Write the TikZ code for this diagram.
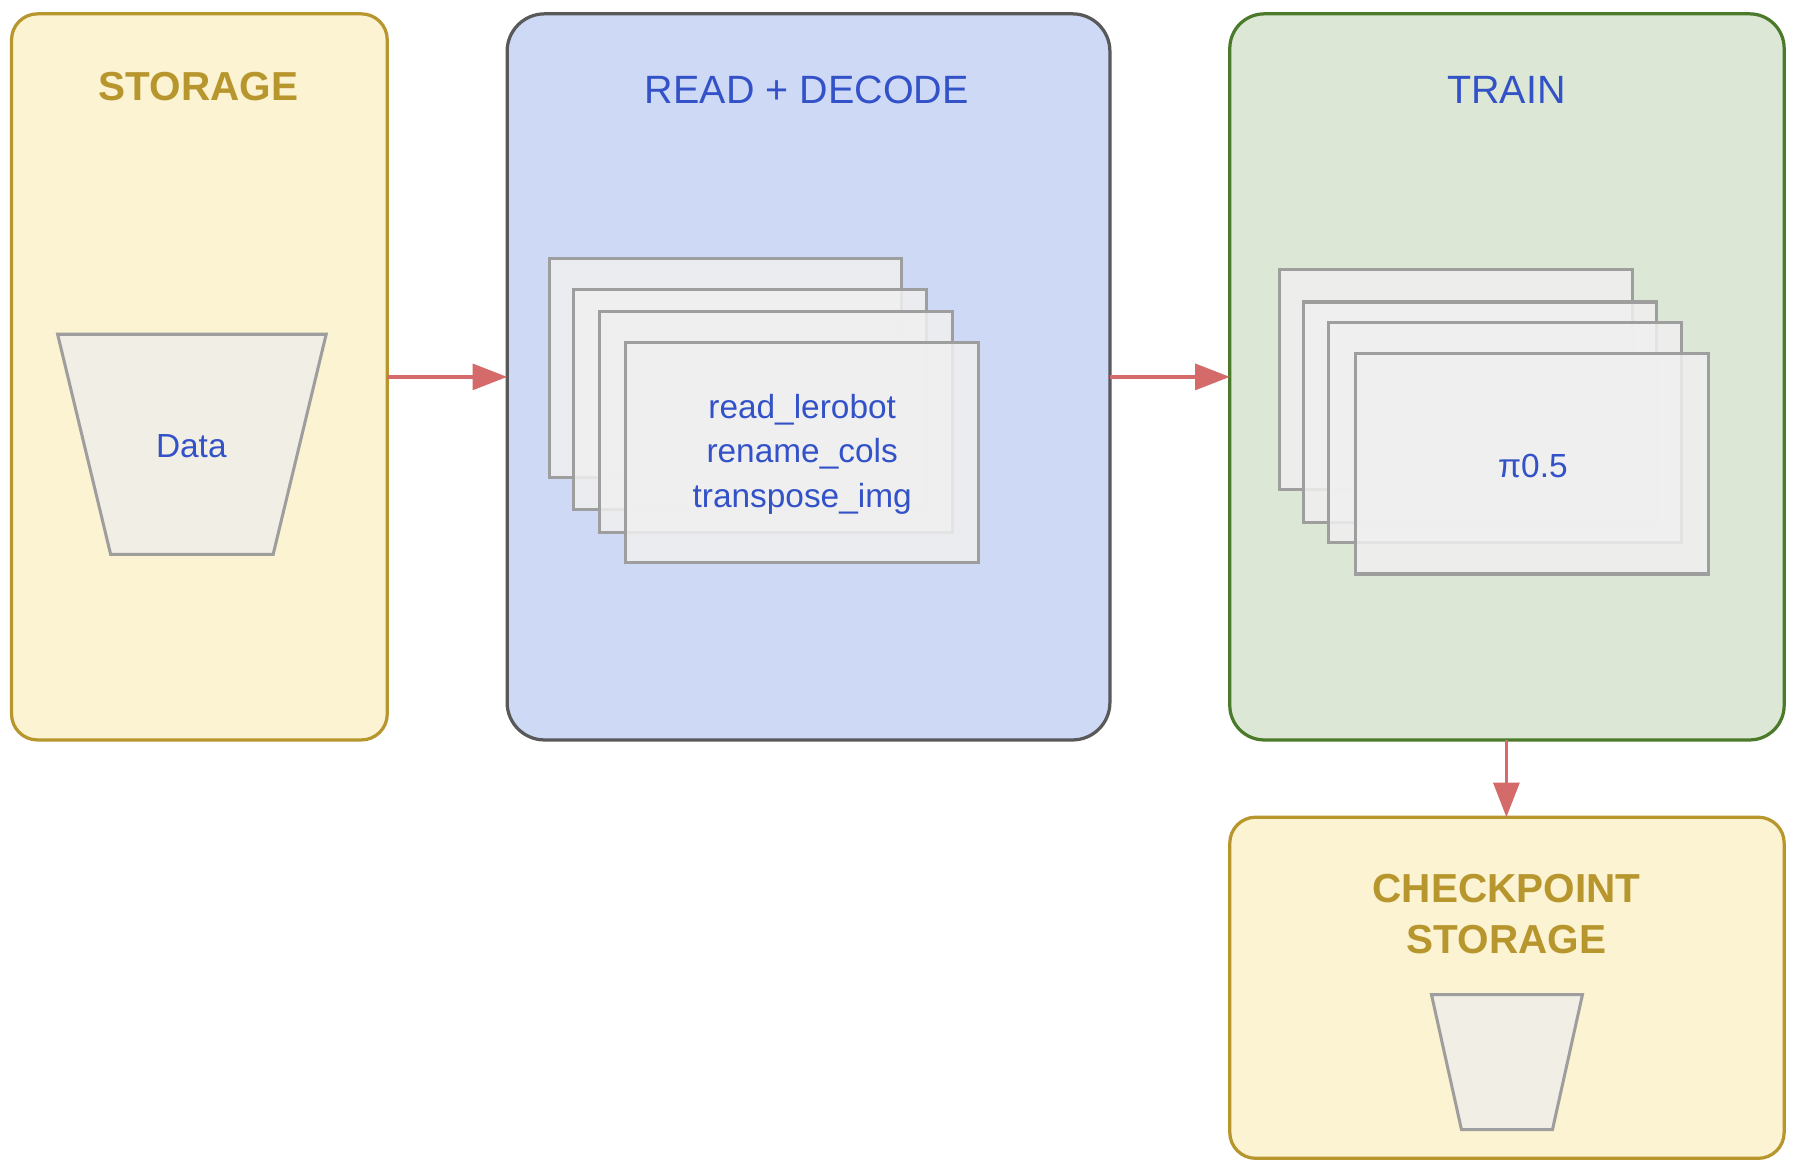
\documentclass[tikz,border=0pt]{standalone}
\usepackage{fontspec}
\setmainfont{Liberation Sans}
\usetikzlibrary{arrows.meta}
\definecolor{gold}{HTML}{B8962E}
\definecolor{goldfill}{HTML}{FBF3D1}
\definecolor{bluefill}{HTML}{CED9F5}
\definecolor{greenfill}{HTML}{DCE8D5}
\definecolor{greenline}{HTML}{4A7A2A}
\definecolor{txtblue}{HTML}{3352C8}
\definecolor{arr}{HTML}{D46A6A}
\definecolor{shapeline}{HTML}{9E9E9E}
\definecolor{shapefill}{HTML}{F1EEE6}
\tikzset{
  px/.style={x=0.02cm,y=-0.02cm},
  stage/.style={rounded corners=0.45cm,line width=1.6pt},
  card/.style={fill=gray!12,fill opacity=0.85,draw=shapeline,line width=1.5pt},
  bucket/.style={fill=shapefill,draw=shapeline,line width=1.5pt},
  title/.style={font=\fontsize{19.5}{23}\selectfont,text=txtblue},
  btitle/.style={font=\fontsize{20}{25}\selectfont\bfseries,text=gold,align=center},
  body/.style={font=\fontsize{16.5}{22}\selectfont,text=txtblue,align=center},
  conn/.style={draw=arr,line width=1.6pt,-{Triangle[length=0.6cm,width=0.45cm]}}
}
\begin{document}
\begin{tikzpicture}[px]
\useasboundingbox (0,0) rectangle (1560,1012);
% stages
\draw[stage,fill=goldfill,draw=gold] (10,12) rectangle (336,642);
\node[btitle] (t1) at (172,75) {STORAGE};
\coordinate (s1e) at (336,327);
\draw[stage,fill=bluefill,draw=black!65,rounded corners=0.65cm] (440,12) rectangle (963,642);
\node[title] (t2) at (700,78) {READ + DECODE};
\coordinate (s2w) at (440,327);
\coordinate (s2e) at (963,327);
\draw[stage,fill=greenfill,draw=greenline,rounded corners=0.6cm] (1067,12) rectangle (1548,642);
\node[title] (t3) at (1307,78) {TRAIN};
\coordinate (s3w) at (1067,327);
\coordinate (s3s) at (1307,642);
\draw[stage,fill=goldfill,draw=gold] (1067,709) rectangle (1548,1005);
\node[btitle] (t4) at (1307,793) {CHECKPOINT\\STORAGE};
\coordinate (s4n) at (1307,709);
% buckets
\draw[bucket] (50,290) -- (283,290) -- (237,481) -- (96,481) -- cycle;
\node[body] (data) at (166,387) {Data};
\draw[bucket] (1242,863) -- (1373,863) -- (1347,980) -- (1268,980) -- cycle;
% cards
\draw[card] (477,224) rectangle (782,414);
\draw[card] (498,251) rectangle (804,442);
\draw[card] (520,270) rectangle (826,462);
\draw[card] (543,297) rectangle (849,488);
\node[body] (ops) at (696,394) {read\_lerobot\\rename\_cols\\transpose\_img};
\draw[card] (1110,234) rectangle (1416,425);
\draw[card] (1131,262) rectangle (1437,453);
\draw[card] (1153,280) rectangle (1459,471);
\draw[card] (1176,307) rectangle (1482,498);
\node[body] (pi) at (1330,404) {π0.5};
% connectors
\draw[conn] (s1e) -- (s2w);
\draw[conn] (s2e) -- (s3w);
\draw[conn] (s3s) -- (s4n);
\end{tikzpicture}
\end{document}
